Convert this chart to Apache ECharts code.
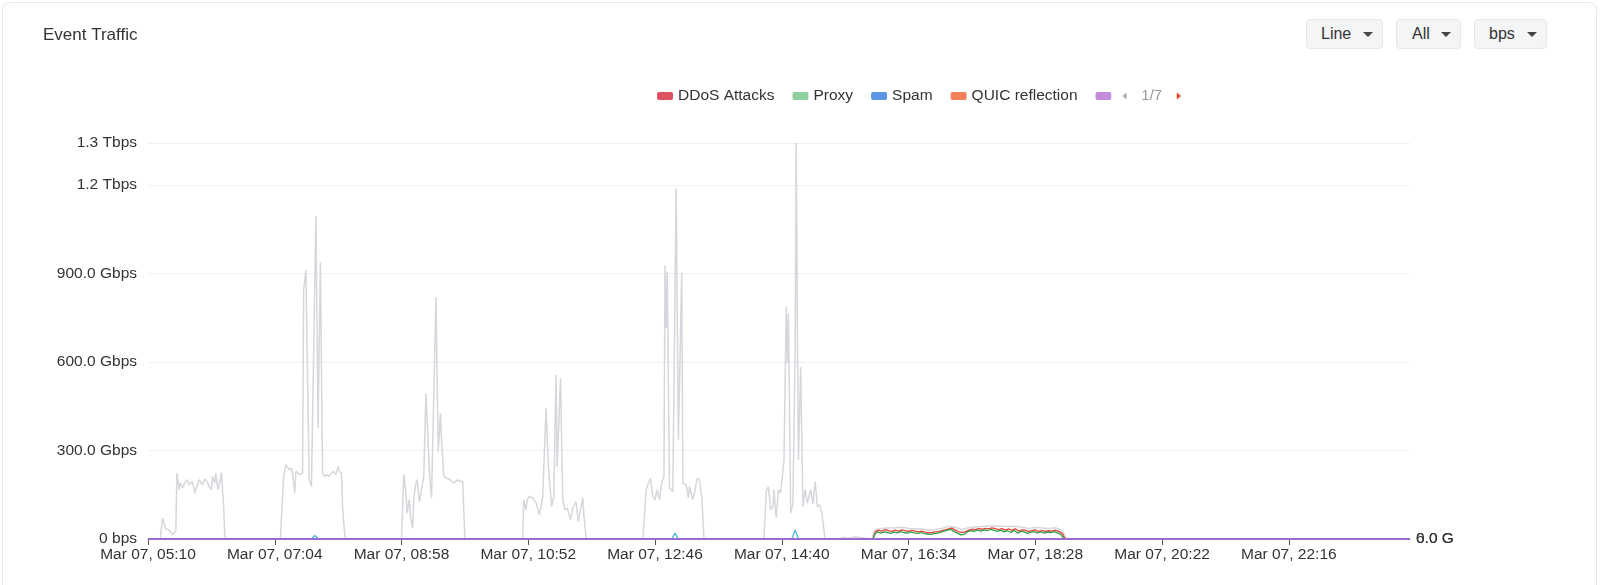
<!DOCTYPE html>
<html>
<head>
<meta charset="utf-8">
<script src="https://cdn.jsdelivr.net/npm/echarts@6/dist/echarts.min.js"></script>
<style>
  html, body { margin:0; padding:0; width:1600px; height:585px; overflow:hidden; background:#fff; font-family:'Liberation Sans', Arial, Helvetica, sans-serif; }
  #card { position:absolute; left:2px; top:2px; width:1595px; height:660px; box-sizing:border-box; border:1px solid #e6e8eb; border-radius:8px; }
  #chart { position:absolute; left:0; top:0; width:1600px; height:585px; }
  .dd { position:absolute; top:19px; height:30px; box-sizing:border-box; background:#f4f5f7; border:1px solid #e4e6ea; border-radius:4px;
        display:flex; align-items:center; justify-content:space-between; padding:0 9px 0 14px; font-size:16px; color:#333; }
  .dd .tri { width:0; height:0; border-left:5px solid transparent; border-right:5px solid transparent; border-top:5px solid #444; }
</style>
</head>
<body>
<div id="card"></div>
<div id="chart"></div>
<div class="dd" style="left:1306px;width:77px;"><span>Line</span><span class="tri"></span></div>
<div class="dd" style="left:1396px;width:65px;padding-left:15px;"><span>All</span><span class="tri"></span></div>
<div class="dd" style="left:1474px;width:73px;"><span>bps</span><span class="tri"></span></div>
<script>
// ---------------- data (Gbps, clock time on Mar 07) ----------------
const xTickTimes = ["05:10","07:04","08:58","10:52","12:46","14:40","16:34","18:28","20:22","22:16"];
const rangeStart = "05:10";
const rangeEnd = "24:05";
const rightAxisLabels = ["0.0 G", "6.0 G"];

const otherTraffic = [
  ["05:10",0],["05:21",0],["05:23",71],["05:26",34],["05:29",31],["05:32",15],["05:35",26],["05:36",223],["05:38",167],["05:39",190],["05:41",173],["05:43",190],["05:45",201],["05:47",184],["05:50",195],["05:52",156],["05:54",178],["05:56",201],["05:59",184],["06:01",203],["06:03",195],["06:05",178],["06:07",167],["06:08",212],["06:10",190],["06:11",223],["06:13",167],["06:15",201],["06:16",226],["06:18",110],["06:19",15],["06:20",0],
  ["07:09",0],["07:12",212],["07:14",252],["07:17",235],["07:19",240],["07:20",223],["07:22",156],["07:23",229],["07:25",223],["07:27",218],["07:29",223],["07:30",845],["07:31",850],["07:32",911],["07:35",200],["07:37",178],["07:41",1094],["07:43",376],["07:45",939],["07:47",223],["07:49",212],["07:51",218],["07:53",212],["07:55",223],["07:57",229],["07:59",218],["08:01",246],["08:02",229],["08:04",223],["08:05",110],["08:07",9],["08:08",0],
  ["08:58",0],["09:00",218],["09:02",156],["09:03",88],["09:05",133],["09:06",77],["09:08",37],["09:09",139],["09:11",190],["09:12",201],["09:14",127],["09:17",190],["09:18",212],["09:20",494],["09:23",235],["09:25",139],["09:29",819],["09:31",296],["09:33",426],["09:34",336],["09:36",212],["09:39",206],["09:42",200],["09:45",189],["09:48",200],["09:51",195],["09:53",195],["09:55",0],
  ["10:47",0],["10:48",133],["10:50",99],["10:51",133],["10:53",144],["10:56",140],["10:59",122],["11:02",82],["11:05",144],["11:08",443],["11:10",251],["11:13",110],["11:15",144],["11:17",556],["11:18",245],["11:21",545],["11:23",133],["11:25",99],["11:27",105],["11:30",65],["11:32",105],["11:35",127],["11:37",60],["11:39",99],["11:41",139],["11:42",84],["11:44",0],
  ["12:35",0],["12:38",167],["12:40",189],["12:42",206],["12:44",144],["12:46",133],["12:48",167],["12:50",133],["12:52",189],["12:54",212],["12:55",928],["12:56",714],["12:57",906],["12:59",173],["13:02",161],["13:05",1188],["13:07",336],["13:10",902],["13:11",189],["13:14",184],["13:16",139],["13:17",178],["13:20",134],["13:22",167],["13:24",206],["13:26",200],["13:28",144],["13:30",0],
  ["14:24",0],["14:26",161],["14:28",178],["14:30",99],["14:32",110],["14:33",167],["14:35",71],["14:37",167],["14:39",156],["14:42",268],["14:44",787],["14:45",595],["14:46",765],["14:48",88],["14:50",120],["14:52",640],["14:53",1342],["14:54",720],["14:55",268],["14:57",584],["14:59",110],["15:01",167],["15:03",122],["15:06",167],["15:08",119],["15:10",195],["15:12",110],["15:14",116],["15:16",88],["15:19",0],
  ["15:32",0],["15:36",6],["15:40",2],["15:46",8],["15:52",4],["15:58",2],
  ["16:01",0],["16:04",32],["16:10",36],["16:16",37],["16:22",38],["16:28",40],["16:34",36],["16:40",35],["16:46",34],["16:52",30],["16:58",32],["17:04",36],["17:10",42],["17:16",40],["17:22",32],["17:28",38],["17:34",41],["17:40",42],["17:46",44],["17:52",45],["17:58",43],["18:04",42],["18:10",43],["18:16",40],["18:22",36],["18:28",39],["18:34",37],["18:40",36],["18:46",38],["18:52",30],["18:56",0],
  ["24:05",0]
];

const ddosTraffic = [
  ["05:10",0],["16:02",0],["16:04",24],["16:07",30],["16:10",27],["16:13",32],["16:16",28],["16:19",26],["16:22",30],["16:25",27],["16:28",31],["16:31",28],["16:34",26],["16:37",29],["16:40",27],["16:43",24],["16:46",27],["16:49",23],["16:52",21],["16:55",22],["16:58",24],["17:01",25],["17:04",28],["17:07",31],["17:10",34],["17:13",37],["17:16",30],["17:19",25],["17:22",22],["17:25",24],["17:28",30],["17:31",33],["17:34",32],["17:37",35],["17:40",33],["17:43",36],["17:46",34],["17:49",38],["17:52",35],["17:55",32],["17:58",35],["18:01",30],["18:04",34],["18:07",29],["18:10",35],["18:13",27],["18:16",31],["18:19",30],["18:22",25],["18:25",28],["18:28",31],["18:31",26],["18:34",29],["18:37",26],["18:40",28],["18:43",27],["18:46",30],["18:49",26],["18:52",20],["18:55",0],["24:05",0]
];

const proxyTraffic = [
  ["05:10",0],["16:02",0],["16:04",18],["16:06",25],["16:09",20],["16:12",24],["16:15",22],["16:18",19],["16:21",23],["16:24",21],["16:27",25],["16:30",22],["16:33",20],["16:36",24],["16:39",21],["16:42",19],["16:45",22],["16:48",18],["16:51",17],["16:54",16],["16:57",18],["17:00",20],["17:03",23],["17:06",27],["17:09",30],["17:12",33],["17:15",25],["17:18",20],["17:21",14],["17:24",16],["17:27",24],["17:30",28],["17:33",26],["17:36",30],["17:39",27],["17:42",31],["17:45",28],["17:48",33],["17:51",29],["17:54",26],["17:57",30],["18:00",24],["18:03",28],["18:06",22],["18:09",30],["18:12",20],["18:15",26],["18:18",24],["18:21",19],["18:24",23],["18:27",25],["18:30",21],["18:33",24],["18:36",20],["18:39",23],["18:42",22],["18:45",25],["18:48",21],["18:51",15],["18:54",0],["24:05",0]
];

const botnetTraffic = [
  ["05:10",0],["07:37",0],["07:40",12],["07:43",0],["13:01",0],["13:04",20],["13:07",0],["14:49",0],["14:52",31],["14:55",0],["24:05",0]
];

const flatTraffic = [["05:10",0],["24:05",0]];

const legendNames = ["DDoS Attacks","Proxy","Spam","QUIC reflection","Port Scan","Botnet","Brute Force","SYN Flood","UDP Flood","ICMP Flood","HTTP Flood","Malware","Phishing","Tor","Crypto Mining","C2 Traffic","Web Scanner","Exploit","Ransomware","DNS Amplification","Spoofing","Worm","Anomaly","Exfiltration","Other"];
const legendColors = ["#e0525f","#8fd19e","#5b96e6","#f47f5b","#c28bdc","#4ab8d9","#f2c14e","#6c8ebf","#b5838d","#7fb77e","#e09f3e","#9e2a2b","#335c67","#a3a3c2","#d4a373","#588157","#bc6c25","#6d597a","#e56b6f","#355070","#b56576","#eaac8b","#90be6d","#577590","#d5d5db"];

// ---------------- helpers ----------------
function toMin(t) { const p = t.split(":").map(Number); return p[0] * 60 + p[1]; }
function pts(arr) { return arr.map(d => [toMin(d[0]), d[1]]); }
function pad(n) { return (n < 10 ? "0" : "") + n; }
function fmtTime(v) { const h = Math.floor(v / 60) % 24, m = Math.round(v % 60); return "Mar 07, " + pad(h) + ":" + pad(m); }
function fmtBps(v) {
  if (v === 0) return "0 bps";
  if (v >= 1000) return (v / 1000).toFixed(1) + " Tbps";
  return v.toFixed(1) + " Gbps";
}

const FONT = "'Liberation Sans', Arial, Helvetica, sans-serif";
const lineColors = {
  "DDoS Attacks": "#e8463c",
  "Proxy": "#2fa24e",
  "Port Scan": "#9a6bcf",
  "Botnet": "#4cb4dc",
  "Other": "#d6d6dc"
};
const dataByName = {
  "DDoS Attacks": ddosTraffic,
  "Proxy": proxyTraffic,
  "Botnet": botnetTraffic,
  "Other": otherTraffic
};
const onTop = ["Botnet","DDoS Attacks","Proxy","Port Scan"];
const drawOrder = ["Other"].concat(legendNames.filter(n => n !== "Other" && !onTop.includes(n)), onTop);

const series = drawOrder.map(name => {
  const idx = legendNames.indexOf(name);
  const lc = lineColors[name] || legendColors[idx];
  return {
    name: name,
    type: "line",
    data: pts(dataByName[name] || flatTraffic),
    showSymbol: false,
    symbol: "none",
    itemStyle: { color: legendColors[idx] },
    lineStyle: { color: lc, width: name === "Port Scan" ? 2 : (name === "Other" ? 1.5 : 1.3) },
    emphasis: { disabled: true },
    z: 2
  };
});

const tickValues = xTickTimes.map(toMin);

const chart = echarts.init(document.getElementById("chart"), null, { renderer: "canvas" });
chart.setOption({
  animation: false,
  textStyle: { fontFamily: FONT },
  title: {
    text: "Event Traffic",
    left: 38, top: 22,
    textStyle: { fontSize: 17, fontWeight: "normal", color: "#333", fontFamily: FONT }
  },
  legend: {
    type: "scroll",
    data: legendNames,
    left: 652, top: 83, width: 524,
    icon: "roundRect",
    itemWidth: 16, itemHeight: 8, itemGap: 18,
    textStyle: { fontSize: 15.5, color: "#333", fontFamily: FONT },
    pageIconSize: [5, 7],
    pageButtonItemGap: 8,
    pageButtonGap: 11,
    pageIconColor: "#e8461e",
    pageIconInactiveColor: "#aaa",
    pageTextStyle: { color: "#999", fontSize: 15, fontFamily: FONT },
    pageFormatter: "{current}/{total}"
  },
  grid: { left: 148, right: 190, top: 143, bottom: 46 },
  xAxis: {
    type: "value",
    min: toMin(rangeStart),
    max: toMin(rangeEnd),
    splitLine: { show: false },
    axisLine: { show: true, onZero: false, lineStyle: { color: "#666", width: 1 } },
    axisTick: { show: true, length: 6, customValues: tickValues, lineStyle: { color: "#555" } },
    axisLabel: { customValues: tickValues, formatter: fmtTime, color: "#333", fontSize: 15.5, margin: 8, fontFamily: FONT }
  },
  yAxis: [
    {
      type: "value", min: 0, max: "dataMax", interval: 300,
      axisLine: { show: false }, axisTick: { show: false },
      splitLine: { lineStyle: { color: "#edf1f6", width: 1 } },
      axisLabel: { formatter: fmtBps, color: "#333", fontSize: 15.5, margin: 11, fontFamily: FONT }
    },
    {
      type: "value", position: "right", min: 0, max: 1, interval: 1,
      axisLine: { show: false }, axisTick: { show: false }, splitLine: { show: false },
      axisLabel: { formatter: v => v === 0 ? rightAxisLabels[0] : "", color: "#333", fontSize: 15.5, margin: 6, fontFamily: FONT }
    },
    {
      type: "value", position: "right", min: 0, max: 1, interval: 1,
      axisLine: { show: false }, axisTick: { show: false }, splitLine: { show: false },
      axisLabel: { formatter: v => v === 0 ? rightAxisLabels[1] : "", color: "#333", fontSize: 15.5, margin: 6, fontFamily: FONT }
    }
  ],
  series: series
});
</script>
</body>
</html>
